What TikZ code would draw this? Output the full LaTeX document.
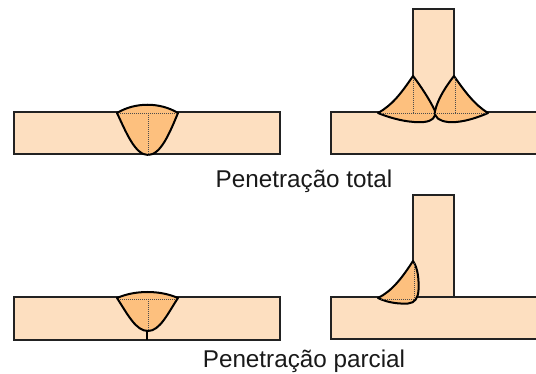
\documentclass[tikz,border=0pt]{standalone}
\usepackage{fontspec}
\setmainfont{Liberation Sans}
\definecolor{base}{HTML}{FDDFC0}
\definecolor{weld}{HTML}{FDC07E}
\definecolor{edge}{HTML}{222222}
\tikzset{
  plate/.style={draw=edge,fill=base,line width=1.5pt},
  seam/.style={draw=black,fill=weld,line width=1.5pt,line join=round},
  guide/.style={draw=black!70,densely dotted,line width=0.5pt},
  caption/.style={font=\fontsize{18.2pt}{20pt}\selectfont,text=black!90,inner sep=0pt,anchor=base}
}
\begin{document}
\begin{tikzpicture}[x=0.75pt,y=-0.75pt]
\useasboundingbox (0,0) rectangle (536,374);
% top left
\draw[plate] (14,112) rectangle (280,154);
\draw[seam] (117,113) .. controls (135,102) and (160,102) .. (178,113)
  .. controls (170,132) and (161,155) .. (148,155)
  .. controls (135,155) and (126,132) .. (117,113) -- cycle;
\draw[guide] (120,113.5) -- (176,113.5) (148,113.5) -- (148,156);
% top right
\draw[plate] (412.5,9) rectangle (454,113);
\draw[plate] (537,112) -- (331,112) -- (331,154) -- (537,154);
\draw[seam] (413,76) .. controls (400,95) and (392,105) .. (378,113)
  .. controls (395,120) and (412,123) .. (424,122)
  .. controls (432,121) and (436,118) .. (435,111)
  .. controls (430,100) and (420,85) .. (413,76) -- cycle;
\draw[seam] (454,76) .. controls (465,92) and (475,105) .. (488,113)
  .. controls (472,120) and (458,123) .. (448,122)
  .. controls (440,121) and (434,118) .. (435,111)
  .. controls (438,98) and (447,85) .. (454,76) -- cycle;
\draw[guide] (381,113.5) -- (486,113.5) (413.5,78) -- (413.5,113) (455,78) -- (455,113);
% bottom left
\draw[plate] (14,297) rectangle (280,340);
\draw[seam] (117,298) .. controls (135,290) and (160,290) .. (178,298)
  .. controls (168,313) and (160,331) .. (148,331)
  .. controls (136,331) and (128,315) .. (117,298) -- cycle;
\draw[guide] (120,299) -- (176,299) (148,299) -- (148,331);
\coordinate (rootTop) at (147,331);
\coordinate (rootEnd) at (147,340);
\draw[draw=black,line width=1.3pt] (rootTop) -- (rootEnd);
% bottom right
\draw[plate] (412.5,195) rectangle (454,297);
\draw[plate] (537,297) -- (331,297) -- (331,339) -- (537,339);
\draw[seam] (413,261) .. controls (402,278) and (392,291) .. (378,298)
  .. controls (388,303) and (400,304) .. (408,303.5)
  .. controls (415,303) and (418,298) .. (418.5,290)
  .. controls (419,280) and (418,268) .. (413,261) -- cycle;
\draw[guide] (381,299) -- (414,299) -- (414,263);
% captions
\node[caption] (total) at (304,188) {Penetração total};
\node[caption] (parcial) at (304,367) {Penetração parcial};
\end{tikzpicture}
\end{document}
